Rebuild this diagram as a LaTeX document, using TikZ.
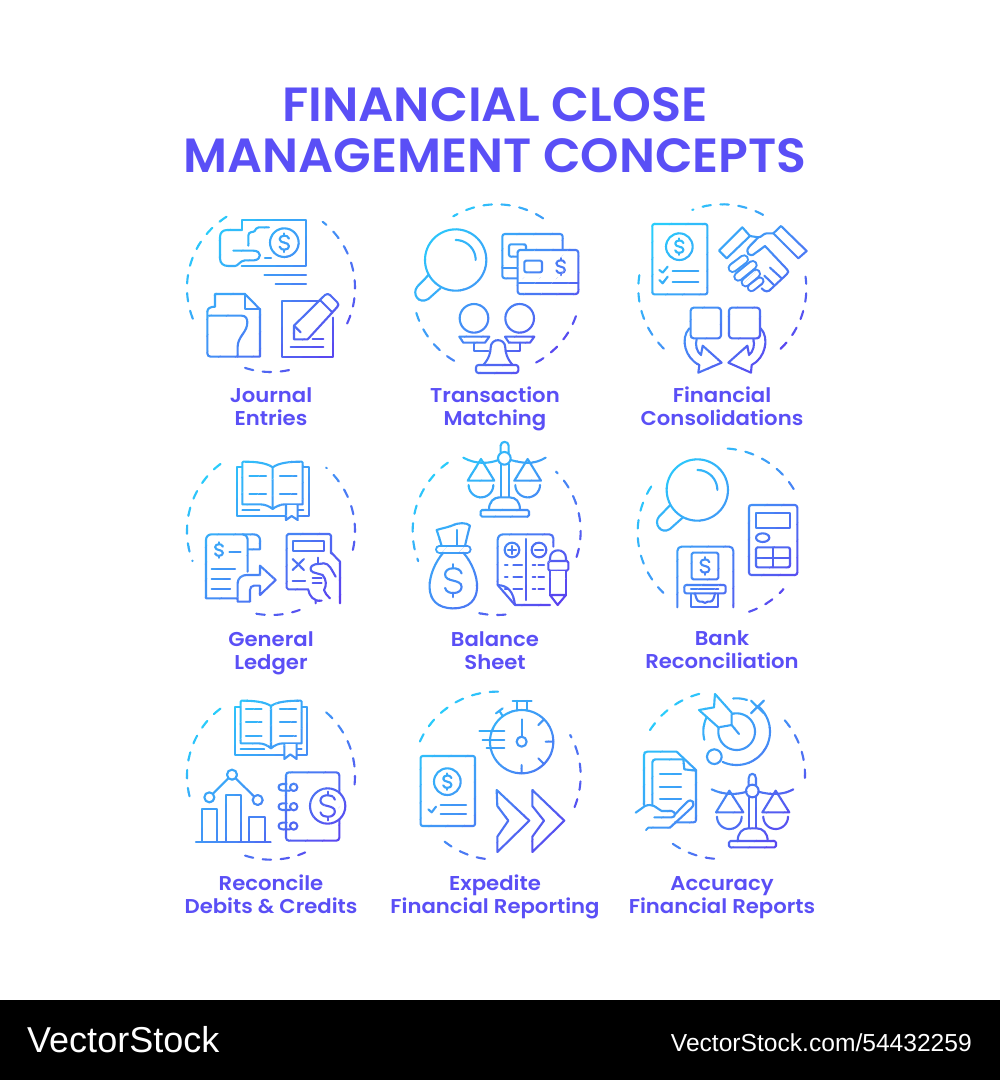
\documentclass[tikz,border=0pt]{standalone}
\usepackage{fontspec}
\newfontfamily\lblfont{Poppins SemiBold}
\setmainfont{Liberation Sans}
\definecolor{lbl}{HTML}{5A4FF6}
\definecolor{gA}{HTML}{26D2FC}
\definecolor{gB}{HTML}{4392F6}
\definecolor{gC}{HTML}{5C3FEF}
\tikzset{
  ob/.style={fill=white},
  ic/.style={line width=2.1pt,line cap=round,line join=round},
  dsh/.style={line width=2.1pt,dash pattern=on 8.5pt off 9.5pt,line cap=round},
  lab/.style={font=\lblfont\fontsize{20}{20}\selectfont,text=lbl,anchor=base,inner sep=0pt},
  ttl/.style={font=\lblfont\fontsize{48}{48}\selectfont,text=lbl,anchor=base,inner sep=0pt}
}
\newcommand\lb[1]{\scalebox{1.06}[1]{#1}}
\newcommand\dol[3]{\begin{scope}[shift={(#1,#2)},scale=#3]
 \draw (8,-7) .. controls (7,-11) and (3,-12) .. (0,-12) .. controls (-5,-12) and (-8,-9.5) .. (-8,-6) .. controls (-8,-2) and (-4,-1) .. (0,0) .. controls (4,1) and (8,2) .. (8,6) .. controls (8,9.5) and (5,12) .. (0,12) .. controls (-3,12) and (-7,11) .. (-8,7);
 \draw (0,-16)--(0,-12) (0,12)--(0,16);
\end{scope}}
\newcommand\dashac[4]{\draw[dsh] plot[domain=#3:#4,samples=50,variable=\t] ({#1+252*cos(\t)},{#2-252*sin(\t)});}
\newcommand\capsl[5]{\draw[line width=#5pt+2.1pt] (#1,#2)--(#3,#4); \draw[line width=#5pt-2.1pt,color=white] (#1,#2)--(#3,#4);}
% one icon, drawn once for each diagonal strip of the colour gradient
\newcommand\drawicon[5]{%
 \begin{scope}[shift={(#1,#2)},x=.33333pt,y=-.33333pt,ic]
 \foreach \uu in {-600,-550,...,550}{%
  \pgfmathsetmacro{\tt}{min(1,max(0,(\uu+25+420)/840))}%
  \pgfmathtruncatemacro{\pa}{min(100,\tt*200)}%
  \pgfmathtruncatemacro{\pb}{max(0,\tt*200-100)}%
  \ifdim\tt pt<0.5pt\colorlet{cur}{gB!\pa!gA}\else\colorlet{cur}{gC!\pb!gB}\fi
  \begin{scope}
   \clip ({#3+\uu/2+700},{#4+\uu/2-700})--({#3+\uu/2-700},{#4+\uu/2+700})--({#3+(\uu+52)/2-700},{#4+(\uu+52)/2+700})--({#3+(\uu+52)/2+700},{#4+(\uu+52)/2-700})--cycle;
   \begin{scope}[color=cur]
   #5
   \end{scope}
  \end{scope}
 }
 \end{scope}}
\begin{document}
\begin{tikzpicture}[x=1pt,y=-1pt]
\useasboundingbox (0,0) rectangle (1000,1080);
\fill[white] (0,0) rectangle (1000,1000);
\fill[black] (0,1000) rectangle (1000,1080);
\node[ttl] (t1) at (495,121) {\scalebox{1.03}[1]{FINANCIAL CLOSE}};
\node[ttl] (t2) at (495,172) {\scalebox{1.02}[1]{MANAGEMENT CONCEPTS}};
% ---------- 1 Journal
\drawicon{170}{195}{303}{279}{
 \dashac{303}{279}{-25}{52}\dashac{303}{279}{122}{205}\dashac{303}{279}{252}{285}
 \draw (215,105)--(215,75)--(407,75)--(407,213)--(215,213);
 \draw (215,105)--(172,105) .. controls (158,105) and (150,113) .. (150,127)--(150,190) .. controls (150,205) and (160,213) .. (175,213)--(195,213) .. controls (205,213) and (208,198) .. (225,196)--(252,196) .. controls (276,194) and (276,167) .. (250,167)--(190,167);
 \draw (297,97)--(266,97) .. controls (258,97) and (258,104) .. (254,108) .. controls (250,113) and (235,108) .. (235,122)--(235,152);
 \draw (285,190)--(303,190);
 \draw (343,143) circle[radius=43];
 \dol{343}{143}{1.75}
 \draw (283,240)--(408,240) (317,267)--(408,267);
 \draw (135,335)--(135,297)--(225,297)--(270,343)--(270,485)--(122,485) .. controls (116,485) and (112,481) .. (112,475)--(112,350);
 \draw (225,297)--(225,343)--(270,343);
 \draw (112,350) .. controls (112,340) and (122,335) .. (135,335);
 \draw (116,362)--(215,362) .. controls (228,362) and (232,372) .. (232,382) .. controls (232,412) and (203,425) .. (203,455)--(203,485);
 \draw (452,318)--(335,318)--(335,485)--(490,485)--(490,368);
 \draw (372,392)--(465,300) .. controls (470,296) and (476,296) .. (480,300)--(502,322) .. controls (506,327) and (506,332) .. (502,336)--(413,433)--(372,433)--cycle;
 \draw (452,317)--(487,352);
 \draw (372,392)--(392,412);
 \draw (428,433)--(460,433) (362,457)--(460,457);
}
% ---------- 2 Transaction
\drawicon{170}{195}{980}{280}{
 \dashac{980}{280}{56.4}{121}\dashac{980}{280}{197}{245}\dashac{980}{280}{298}{345}
 \draw (857,195) circle[radius=92];
 \draw plot[domain=0:90,samples=30,variable=\t] ({857+60*cos(\t)},{195-60*sin(\t)});
 \draw (775,241)--(742,275) .. controls (725,295) and (745,330) .. (775,312)--(812,279);
 \draw[rounded corners=2.5pt] (997,117) rectangle (1178,250);
 \draw (997,218)--(1043,218);
 \draw[rounded corners=2pt] (1017,148) rectangle (1068,185);
 \draw[ob,rounded corners=2.5pt] (1043,165) rectangle (1225,297);
 \draw (1043,265)--(1225,265);
 \draw[rounded corners=2pt] (1063,197) rectangle (1116,232);
 \dol{1172}{215}{1.6}
 \draw (912,370) circle[radius=43] (1049,370) circle[radius=43];
 \draw (868,425)--(958,425)--(945,443)--(880,443)--cycle;
 \draw (1005,425)--(1093,425)--(1080,443)--(1017,443)--cycle;
 \draw (912,443)--(912,467)--(955,467) (1050,443)--(1050,467)--(1007,467);
 \draw (940,510) .. controls (958,490) and (962,470) .. (962,458) .. controls (962,428) and (1006,428) .. (1006,458) .. controls (1006,470) and (1010,490) .. (1028,510);
 \draw[rounded corners=2.5pt] (918,510) rectangle (1045,534);
}
% ---------- 3 Consolidations
\drawicon{590}{195}{397}{280}{
 \dashac{397}{280}{61}{111}\dashac{397}{280}{171}{230.5}\dashac{397}{280}{314}{368}
 \draw[rounded corners=2pt] (187,87) rectangle (352,298);
 \draw (268,155) circle[radius=40];
 \dol{268}{155}{1.55}
 \draw (208,225)--(218,233)--(233,215) (208,255)--(218,265)--(233,245);
 \draw (248,227)--(325,227) (248,260)--(325,260);
 \draw (387,167)--(457,97)--(480,123)--(410,190)--cycle;
 \draw (573,93)--(650,168)--(625,190)--(550,115)--cycle;
 \draw (480,123)--(505,127) .. controls (515,127) and (520,115) .. (530,115)--(550,115);
 \draw (505,127)--(478,155) .. controls (462,172) and (480,190) .. (495,175)--(525,153)--(590,222) .. controls (596,230) and (596,232) .. (590,238)--(545,280) .. controls (535,292) and (525,292) .. (515,280);
 \capsl{428}{219}{462}{193}{8}
 \capsl{445}{245}{488}{210}{8}
 \capsl{467}{262}{498}{236}{8}
 \capsl{484}{278}{510}{258}{7}
 \draw (540,218)--(575,250) (523,242)--(552,270);
 \draw[rounded corners=3pt] (302,338) rectangle (393,430);
 \draw[rounded corners=3pt] (417,338) rectangle (510,430);
 \draw (298,400) .. controls (270,430) and (285,490) .. (328,510)--(325,533)--(395,503)--(338,452)--(333,480) .. controls (320,470) and (315,450) .. (320,432);
 \draw (512,400) .. controls (540,430) and (525,490) .. (485,510)--(483,533)--(415,503)--(472,452)--(477,480) .. controls (490,470) and (495,450) .. (490,432);
}
% ---------- 4 General Ledger
\drawicon{170}{435}{303}{288}{
 \dashac{303}{288}{-13}{49}\dashac{303}{288}{127}{201}\dashac{303}{288}{260}{290}
 \draw (217,97)--(202,97)--(202,243)--(417,243)--(417,97)--(400,97);
 \draw[ob] (308,97) .. controls (290,84) and (260,80) .. (220,80)--(217,83)--(217,208)--(270,208) .. controls (285,208) and (298,214) .. (308,222) .. controls (318,214) and (331,208) .. (345,208)--(398,208)--(398,83)--(395,80) .. controls (355,80) and (326,84) .. (308,97)--(308,222);
 \draw (238,122)--(288,122) (330,122)--(380,122) (238,177)--(288,177) (330,177)--(380,177);
 \draw (217,225)--(268,225) (385,225)--(400,225);
 \draw[ob] (348,210)--(348,255)--(365,243)--(383,255)--(383,210);
 \draw (233,410)--(233,312) .. controls (233,303) and (225,298) .. (218,298)--(125,298) .. controls (115,298) and (108,305) .. (108,315)--(108,490)--(202,490);
 \draw (218,298)--(250,298) .. controls (262,298) and (270,305) .. (270,315)--(270,343)--(235,343);
 \dol{147}{345}{1.45}
 \draw (178,352)--(212,352);
 \draw (125,402)--(195,402) (125,432)--(180,432) (125,463)--(180,463);
 \draw[ob] (203,500)--(203,445) .. controls (203,430) and (215,420) .. (230,420)--(270,420)--(270,392)--(317,435)--(270,480)--(270,452)--(252,452) .. controls (245,452) and (240,458) .. (240,465)--(240,500)--cycle;
 \draw (415,463)--(355,463)--(350,458)--(350,302)--(355,297)--(478,297)--(483,302)--(483,355);
 \draw (368,317) rectangle (463,347);
 \draw (368,372)--(402,405) (402,372)--(368,405);
 \draw (368,437)--(405,437) (428,430)--(455,430) (428,445)--(455,445);
 \draw (445,368)--(445,385);
 \draw (483,352)--(510,380)--(510,505);
 \draw (497,425) .. controls (485,405) and (478,385) .. (462,385)--(435,388) .. controls (418,392) and (418,408) .. (430,412)--(458,420) .. controls (470,435) and (470,452) .. (462,465) .. controls (468,478) and (472,483) .. (480,490);
 \draw (415,465) .. controls (418,482) and (430,500) .. (455,497) (437,497)--(437,505);
}
% ---------- 5 Balance Sheet
\drawicon{170}{435}{980}{288}{
 \dashac{980}{288}{125.5}{201}\dashac{980}{288}{258}{279}\dashac{980}{288}{342}{405}
 \draw (992,52)--(992,32) .. controls (992,17) and (1016,17) .. (1016,32)--(1016,52);
 \draw (1003,70) circle[radius=19];
 \draw (992,88)--(992,185) (1016,88)--(1016,185);
 \draw (880,68) .. controls (920,90) and (960,85) .. (985,75) (1022,75) .. controls (1060,85) and (1090,90) .. (1127,68);
 \draw (933,72)--(893,137)--(973,137)--cycle (1073,72)--(1033,137)--(1113,137)--cycle;
 \draw plot[domain=180:360,samples=30,variable=\t] ({933+37*cos(\t)},{150-37*sin(\t)});
 \draw plot[domain=180:360,samples=30,variable=\t] ({1073+37*cos(\t)},{150-37*sin(\t)});
 \draw (957,225) .. controls (957,200) and (970,187) .. (990,187)--(1018,187) .. controls (1038,187) and (1050,200) .. (1050,225);
 \draw[rounded corners=1.5pt] (932,225) rectangle (1077,245);
 \draw (815,333) .. controls (810,315) and (805,300) .. (800,285) .. controls (815,280) and (830,278) .. (845,272) .. controls (865,262) and (890,262) .. (900,272) .. controls (895,290) and (890,310) .. (885,333);
 \draw (862,285)--(862,333);
 \capsl{808}{343}{892}{343}{6.5}
 \draw (820,353) .. controls (770,410) and (750,520) .. (850,520) .. controls (950,520) and (930,410) .. (880,353);
 \dol{850}{437}{3.1}
 \draw (1150,335)--(1150,310) .. controls (1150,303) and (1145,298) .. (1138,298)--(1000,298) .. controls (990,298) and (983,305) .. (983,315)--(983,450) .. controls (1015,452) and (1030,470) .. (1035,510)--(1140,510);
 \draw (983,450)--(1035,510);
 \draw (1067,312)--(1067,495);
 \draw (1026,345) circle[radius=22] (1107,345) circle[radius=22];
 \draw (1014,345)--(1038,345) (1026,333)--(1026,357) (1095,345)--(1119,345);
 \foreach \yy in {390,427,463}{
  \draw (1005,\yy)--(1013,\yy) (1030,\yy)--(1056,\yy) (1088,\yy)--(1096,\yy) (1105,\yy)--(1122,\yy);}
 \draw[ob] (1140,380)--(1140,370) .. controls (1140,338) and (1188,338) .. (1188,370)--(1188,380);
 \draw[ob,rounded corners=1.5pt] (1135,378) rectangle (1195,407);
 \draw[ob] (1140,407)--(1140,480)--(1188,480)--(1188,407);
 \draw (1140,480)--(1163,510)--(1188,480)--cycle;
}
% ---------- 6 Bank
\drawicon{590}{435}{395}{292}{
 \dashac{395}{292}{31}{90}\dashac{395}{292}{147}{226}\dashac{395}{292}{289}{317.4}
 \draw (322,165) circle[radius=92];
 \draw plot[domain=0:90,samples=30,variable=\t] ({322+60*cos(\t)},{165-60*sin(\t)});
 \draw (240,211)--(207,245) .. controls (190,265) and (212,300) .. (240,282)--(278,248);
 \draw[rounded corners=2.5pt] (477,210) rectangle (622,420);
 \draw (498,235) rectangle (600,278);
 \draw (518,308) ellipse[x radius=20,y radius=13];
 \draw[rounded corners=2pt] (498,337) rectangle (600,397);
 \draw (549,337)--(549,397) (498,368)--(600,368);
 \draw (262,517)--(262,348) .. controls (262,340) and (268,335) .. (275,335)--(418,335) .. controls (425,335) and (430,340) .. (430,348)--(430,517);
 \draw[rounded corners=1.5pt] (305,353) rectangle (385,433);
 \dol{345}{393}{1.65}
 \draw (303,475)--(303,517)--(385,517)--(385,475);
 \draw[ob,rounded corners=2pt] (283,450) rectangle (407,475);
 \draw (303,463)--(385,463);
 \draw (315,475) .. controls (318,490) and (322,500) .. (330,500)--(337,500) .. controls (342,505) and (348,505) .. (353,500)--(360,500) .. controls (368,500) and (372,490) .. (375,475);
}
% ---------- 7 Reconcile
\drawicon{170}{680}{303}{287}{
 \dashac{303}{287}{-6}{54}\dashac{303}{287}{127}{196.6}\dashac{303}{287}{252}{294}
 \draw (212,80)--(195,80)--(195,225)--(412,225)--(412,80)--(395,80);
 \draw[ob] (303,78) .. controls (285,66) and (255,62) .. (215,62)--(212,65)--(212,190)--(265,190) .. controls (280,190) and (293,196) .. (303,205) .. controls (313,196) and (326,190) .. (340,190)--(395,190)--(395,65)--(392,62) .. controls (350,62) and (320,66) .. (303,78)--(303,205);
 \foreach \yy in {87,127,167}{\draw (228,\yy)--(275,\yy) (330,\yy)--(378,\yy);}
 \draw (212,208)--(282,208) (380,208)--(395,208);
 \draw[ob] (343,192)--(343,237)--(361,223)--(380,237)--(380,192);
 \draw (95,485)--(95,387)--(142,387)--(142,485);
 \draw (167,485)--(167,345)--(213,345)--(213,485);
 \draw (238,485)--(238,412)--(285,412)--(285,485);
 \draw (78,485)--(302,485);
 \draw (118,352) circle[radius=15] (186,284) circle[radius=15] (263,360) circle[radius=15];
 \draw (129,341)--(175,295) (197,295)--(252,349);
 \draw[rounded corners=3pt] (348,277) rectangle (508,482);
 \foreach \yy in {322,380,438}{
  \draw[ob] (371,\yy) circle[radius=11];
  \draw (350,\yy-10)--(337,\yy-10) .. controls (322,\yy-10) and (322,\yy+10) .. (337,\yy+10)--(360,\yy+10);}
 \draw[ob] (473,378) circle[radius=53];
 \dol{473}{378}{2.7}
}
% ---------- 8 Expedite
\drawicon{170}{680}{980}{287}{
 \dashac{980}{287}{89}{156}\dashac{980}{287}{231.7}{262}\dashac{980}{287}{338}{389}
 \draw (1055,185) circle[radius=95];
 \draw (928,153)--(1003,153) (938,180)--(1003,180) (950,205)--(1003,205);
 \draw (1028,63)--(1085,63) (1040,63)--(1040,92) (1070,63)--(1070,92);
 \draw (978,100)--(998,85) (988,92)--(998,108);
 \draw (1055,185) circle[radius=15];
 \draw (1055,118)--(1055,170);
 \draw (1127,185)--(1150,185) (1055,255)--(1055,280) (1105,235)--(1122,252) (1105,135)--(1122,118);
 \draw[rounded corners=2pt] (752,228) rectangle (915,438);
 \draw (832,305) circle[radius=40];
 \dol{832}{305}{1.55}
 \draw (775,388)--(785,397)--(798,380);
 \draw (812,375)--(888,375) (812,402)--(888,402);
 \draw (980,330)--(1078,422)--(982,516)--(982,470)--(1015,422)--(982,378)--cycle;
 \draw (1087,330)--(1183,422)--(1087,516)--(1087,470)--(1122,422)--(1087,378)--cycle;
}
% ---------- 9 Accuracy
\drawicon{590}{680}{393}{285}{
 \dashac{393}{285}{105}{154}\dashac{393}{285}{235}{270}\dashac{393}{285}{-2}{42.6}
 \draw plot[domain=72:96,samples=10,variable=\t] ({440+100*cos(\t)},{155-100*sin(\t)});
 \draw plot[domain=-115:50,samples=40,variable=\t] ({440+100*cos(\t)},{155-100*sin(\t)});
 \draw plot[domain=151:194,samples=15,variable=\t] ({440+100*cos(\t)},{155-100*sin(\t)});
 \draw plot[domain=-194:105,samples=60,variable=\t] ({440+55*cos(\t)},{155-55*sin(\t)});
 \draw[ob] (375,42)--(425,98)--(425,135)--(385,142)--(327,90)--(372,82)--cycle;
 \draw (425,135)--(447,162);
 \draw (373,230) circle[radius=22];
 \draw (483,100)--(522,62) (483,62)--(522,100);
 \draw (162,375)--(162,225) .. controls (162,219) and (166,215) .. (172,215)--(260,215)--(318,270)--(318,420) .. controls (318,425) and (315,427) .. (310,427)--(255,427);
 \draw (187,375)--(187,248) .. controls (187,242) and (191,238) .. (197,238)--(280,238);
 \draw (280,238)--(283,268)--(318,272);
 \draw (210,283)--(273,283) (210,320)--(273,320) (210,358)--(273,358);
 \draw (137,398)--(165,378) .. controls (175,374) and (185,374) .. (192,378)--(215,393)--(245,393) .. controls (258,395) and (258,412) .. (245,412)--(193,412);
 \draw (168,450)--(175,443)--(240,443)--(303,385) .. controls (320,370) and (305,352) .. (290,367)--(255,403);
 \draw (476,315)--(476,295) .. controls (476,277) and (498,277) .. (498,295)--(498,315);
 \draw (487,333) circle[radius=19];
 \draw (477,352)--(477,445) (498,352)--(498,445);
 \draw (365,328) .. controls (400,345) and (440,345) .. (470,335) (505,335) .. controls (540,345) and (580,345) .. (610,328);
 \draw (418,332)--(378,397)--(460,397)--cycle (557,332)--(517,397)--(598,397)--cycle;
 \draw plot[domain=180:360,samples=30,variable=\t] ({418+37*cos(\t)},{410-37*sin(\t)});
 \draw plot[domain=180:360,samples=30,variable=\t] ({557+37*cos(\t)},{410-37*sin(\t)});
 \draw (443,483) .. controls (443,458) and (458,445) .. (475,445)--(500,445) .. controls (518,445) and (533,458) .. (533,483);
 \draw[rounded corners=1.5pt] (417,483) rectangle (558,502);
}
\node[lab] (l1a) at (271,402.7) {\lb{Journal}};
\node[lab] (l1b) at (271,425.7) {\lb{Entries}};
\node[lab] (l2a) at (495,402.7) {\lb{Transaction}};
\node[lab] (l2b) at (495,425.7) {\lb{Matching}};
\node[lab] (l3a) at (722,402.7) {\lb{Financial}};
\node[lab] (l3b) at (722,425.7) {\lb{Consolidations}};
\node[lab] (l4a) at (271,646.2) {\lb{General}};
\node[lab] (l4b) at (271,669.2) {\lb{Ledger}};
\node[lab] (l5a) at (495,646.2) {\lb{Balance}};
\node[lab] (l5b) at (495,669.2) {\lb{Sheet}};
\node[lab] (l6a) at (722,645) {\lb{Bank}};
\node[lab] (l6b) at (722,668) {\lb{Reconciliation}};
\node[lab] (l7a) at (271,890) {\lb{Reconcile}};
\node[lab] (l7b) at (271,913) {\lb{Debits \& Credits}};
\node[lab] (l8a) at (495,890) {\lb{Expedite}};
\node[lab] (l8b) at (495,913) {\lb{Financial Reporting}};
\node[lab] (l9a) at (722,890) {\lb{Accuracy}};
\node[lab] (l9b) at (722,913) {\lb{Financial Reports}};
\node[anchor=west,inner sep=0pt,text=white,font=\fontsize{36}{36}\selectfont] (vs) at (27,1040) {VectorStock};
\node[anchor=east,inner sep=0pt,text=white,font=\fontsize{24.6}{24.6}\selectfont] (vu) at (972,1043) {VectorStock.com/54432259};
\end{tikzpicture}
\end{document}
